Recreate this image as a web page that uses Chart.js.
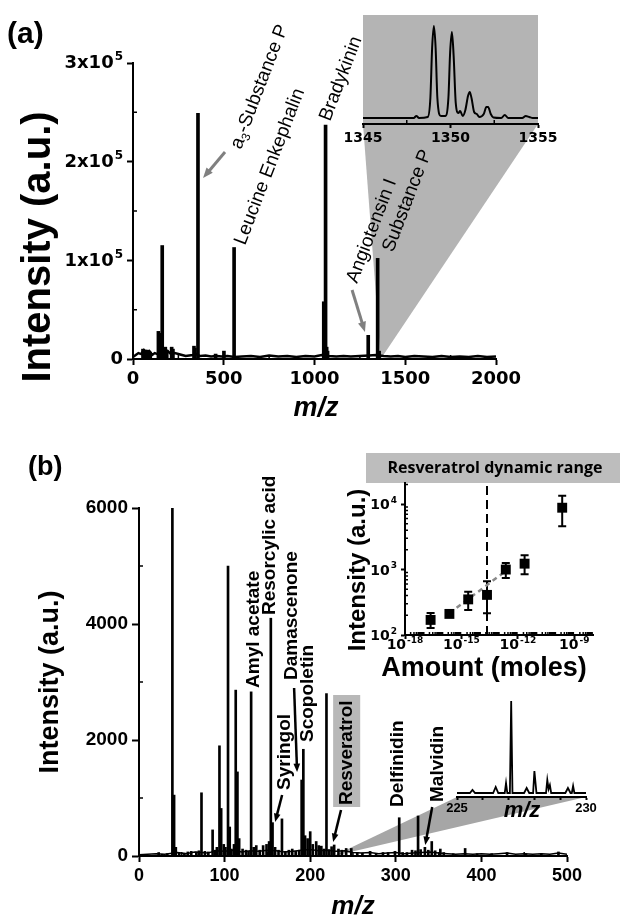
<!DOCTYPE html>
<html>
<head>
<meta charset="utf-8">
<title>Mass spectra</title>
<script src="https://cdn.jsdelivr.net/npm/chart.js@4.4.1/dist/chart.umd.min.js"></script>
<style>
  body { margin: 0; background: #fff; }
  #fig { position: relative; width: 620px; height: 916px; overflow: hidden; }
  #fig > div { position: absolute; }
  canvas { display: block; }
  .tag { font-weight: bold; color: #000; line-height: 1; }
</style>
</head>
<body>
<div id="fig">
  <div style="left:0;top:0"><canvas id="specA" width="620" height="440"></canvas></div>
  <div style="left:330px;top:0"><canvas id="insetA" width="240" height="160"></canvas></div>
  <div style="left:0;top:440px"><canvas id="specB" width="620" height="476"></canvas></div>
  <div style="left:330px;top:445px"><canvas id="rangeB" width="290" height="240"></canvas></div>
  <div style="left:430px;top:690px"><canvas id="insetB" width="190" height="140"></canvas></div>
  <div class="tag" style="left:7px;top:18px;font-family:'Liberation Sans';font-size:30px">(a)</div>
  <div class="tag" style="left:28px;top:453px;font-family:'Liberation Sans';font-size:27px">(b)</div>
</div>
<script>
// Panel (a): peptide spectrum, peaks as sticks plus the noisy baseline
const peakMzA = [55, 68, 82, 95, 140, 145, 150, 161, 178, 186, 213, 220, 336, 341, 358, 455, 501, 557, 1051, 1055, 1061, 1067, 1072, 1296, 1348, 1356];
const peakIntA = [10000, 9000, 9000, 7000, 28000, 26000, 15000, 115000, 12000, 9000, 12000, 10000, 13000, 11000, 249000, 5000, 8000, 113000, 58000, 30000, 237000, 12000, 8000, 24000, 102000, 8000];
const noiseMzA = [0, 15, 30, 45, 60, 75, 90, 105, 120, 135, 150, 170, 190, 210, 230, 250, 270, 290, 310, 330, 350, 370, 400, 430, 460, 490, 520, 560, 600, 650, 700, 750, 800, 850, 900, 950, 1000, 1040, 1080, 1120, 1160, 1200, 1250, 1300, 1340, 1380, 1420, 1460, 1500, 1550, 1600, 1650, 1700, 1750, 1800, 1850, 1900, 1950, 2000];
const noiseIntA = [2000, 4000, 6000, 5000, 9000, 7000, 8000, 4000, 6000, 5000, 7000, 6000, 8000, 5000, 6000, 5000, 4000, 3000, 3500, 4000, 5000, 3000, 3500, 2500, 3000, 2500, 3000, 2000, 2500, 3000, 2000, 3500, 2500, 3000, 2000, 3000, 2500, 4000, 3000, 2500, 3000, 2500, 3000, 3500, 4000, 3000, 2500, 3000, 2000, 3000, 2500, 2000, 3000, 2000, 2500, 2000, 3000, 2000, 2500];
const yTicksA = [0, 100000, 200000, 300000];
const yTickBaseA = ['0', '1x10', '2x10', '3x10'];
const yTickSupA = ['', '5', '5', '5'];
const minorXA = [250, 750, 1250, 1750];
const minorYA = [50000, 150000, 250000];
const apexA = [1365, 0];

// Panel (a) inset: Substance P isotope envelope
const insetMzA = [1345, 1346.5, 1347.9, 1348.05, 1348.2, 1348.7, 1348.85, 1348.95, 1349.05, 1349.15, 1349.25, 1349.45, 1349.7, 1349.88, 1349.98, 1350.08, 1350.18, 1350.3, 1350.45, 1350.55, 1350.7, 1350.85, 1351.0, 1351.1, 1351.2, 1351.35, 1351.5, 1351.65, 1351.9, 1352.05, 1352.15, 1352.3, 1352.45, 1352.9, 1353.1, 1353.3, 1354.1, 1354.3, 1354.5, 1354.7, 1355];
const insetIntA = [0, 0, 0, 2, 0, 1, 20, 70, 92, 70, 20, 2, 2, 20, 66, 86, 62, 15, 5, 7, 2, 8, 22, 26, 20, 6, 4, 1, 4, 11, 11, 4, 0.5, 0, 3, 0, 0, 2, 1, 0, 0];
const minorInsetA = [1347.5, 1352.5];

// Panel (b): wine extract spectrum
const peakMzB = [23, 27, 33, 39, 41, 43, 47, 53, 57, 61, 67, 70, 73, 77, 81, 86, 89, 91, 94, 96, 99, 101, 104, 106, 108, 111, 113, 115, 117, 121, 125, 128, 131, 134, 137, 141, 145, 149, 152, 154, 156, 159, 163, 167, 171, 175, 179, 183, 187, 190, 192, 194, 197, 200, 203, 207, 210, 213, 216, 219, 222, 225, 228, 233, 237, 242, 248, 255, 261, 270, 277, 285, 291, 299, 304, 308, 313, 319, 323, 326, 329, 334, 338, 342, 346, 352, 356, 367, 381, 395, 412, 430, 452, 470, 490];
const peakIntB = [60, 30, 40, 6000, 1050, 150, 60, 50, 70, 80, 70, 90, 1090, 80, 70, 450, 100, 150, 1900, 820, 200, 150, 5000, 500, 120, 200, 2860, 1450, 300, 120, 100, 80, 2830, 150, 180, 100, 180, 200, 250, 4100, 575, 150, 100, 640, 80, 100, 120, 80, 100, 1310, 1840, 350, 300, 420, 200, 250, 180, 170, 120, 2800, 110, 160, 190, 120, 100, 130, 130, 60, 50, 80, 40, 60, 60, 80, 660, 60, 60, 100, 90, 690, 110, 150, 100, 250, 90, 120, 60, 40, 130, 40, 40, 60, 40, 40, 70];
const noiseMzB = [0, 10, 20, 30, 45, 55, 65, 80, 90, 100, 110, 120, 130, 140, 150, 160, 170, 180, 190, 200, 210, 220, 230, 240, 250, 260, 270, 280, 290, 300, 310, 320, 330, 340, 350, 360, 370, 380, 390, 400, 410, 420, 430, 440, 450, 460, 470, 480, 490, 500];
const noiseIntB = [20, 30, 40, 30, 60, 40, 70, 50, 90, 80, 100, 70, 90, 80, 100, 90, 70, 80, 100, 110, 90, 100, 80, 90, 60, 50, 60, 40, 50, 60, 40, 50, 60, 70, 50, 40, 30, 40, 30, 40, 30, 40, 50, 30, 40, 30, 40, 30, 50, 30];
const minorXB = [50, 150, 250, 350, 450];
const minorYB = [1000, 3000, 5000];
const apexB = [227, 0];

// Panel (b) inset: resveratrol region 225-230
const insetMzB = [225, 225.5, 225.6, 225.7, 226.4, 226.5, 226.6, 226.85, 226.9, 226.95, 227.05, 227.1, 227.15, 227.6, 227.7, 227.8, 227.95, 228.0, 228.08, 228.45, 228.5, 228.55, 228.6, 228.65, 229.2, 229.3, 229.4, 229.45, 229.5, 229.55, 230];
const insetIntB = [0, 0, 3, 0, 0, 6, 0, 0, 10, 0, 0, 92, 0, 0, 5, 0, 0, 22, 0, 0, 13, 4, 8, 0, 0, 5, 0, 0, 7, 0, 0];
const insetLabelsB = [225, 230];

// Panel (b) inset: resveratrol dynamic range (log-log)
const amountR = [2.3e-17, 2.3e-16, 2.3e-15, 2.3e-14, 2.3e-13, 2.3e-12, 2.3e-10];
const intensR = [170, 210, 350, 410, 1000, 1230, 8800];
const errLowR = [128, 195, 240, 215, 740, 850, 4600];
const errHighR = [217, 225, 458, 660, 1260, 1660, 13400];
const fitXR = [2.3e-16, 2.3e-13];
const fitYR = [215, 950];
const limitR = 2.3e-14;
const xTicksR = [1e-18, 1e-15, 1e-12, 1e-9];
const xTickSupR = ['-18', '-15', '-12', '-9'];
const yTicksR = [100, 1000, 10000];
const yTickSupR = ['2', '3', '4'];
const xRangeR = [1e-18, 1e-8];
const yRangeR = [100, 21000];

// Labels pinned to data coordinates
const labelsA = [
  { text: 'Leucine Enkephalin', mz: 617, int: 114500 },
  { text: 'Bradykinin', mz: 1085, int: 240200 },
  { text: 'Angiotensin I', mz: 1234, int: 76000 },
  { text: 'Substance P', mz: 1432, int: 107400 }
];
const a3LabelA = { mz: 595, int: 211800 };
const arrowsA = [[507, 209800, 386, 183400], [1207, 69900, 1278, 27400]];
const labelsB = [
  { text: 'Amyl acetate', mz: 134.4, int: 2897 },
  { text: 'Resorcylic acid', mz: 153.1, int: 4155 },
  { text: 'Damascenone', mz: 178.9, int: 3034 },
  { text: 'Scopoletin', mz: 197.0, int: 1966 },
  { text: 'Syringol', mz: 170.7, int: 1138 },
  { text: 'Resveratrol', mz: 242.8, int: 879 },
  { text: 'Delfinidin', mz: 302.8, int: 845 },
  { text: 'Malvidin', mz: 349.0, int: 931 }
];
const arrowsB = [[181.2, 2897, 184.7, 1448], [167.2, 1052, 159, 586], [236, 793, 226.8, 241], [342.5, 845, 334.4, 190]];
const resvBox = [226.8, 258.4, 845, 2776];

Chart.defaults.color = '#000';
Chart.defaults.animation = false;
Chart.defaults.events = [];
Chart.defaults.plugins.legend.display = false;
Chart.defaults.plugins.tooltip.enabled = false;

const SANS = '"Liberation Sans", Arial, sans-serif';
const WIDE = '"DejaVu Sans", sans-serif';
const pts = (xs, ys) => xs.map((x, i) => ({ x, y: ys[i] }));

function drawText(ctx, text, x, y, font, rot = 0, align = 'center', base = 'middle') {
  ctx.save();
  ctx.translate(x, y);
  ctx.rotate(rot * Math.PI / 180);
  ctx.font = font;
  ctx.fillStyle = '#000';
  ctx.textAlign = align;
  ctx.textBaseline = base;
  ctx.fillText(text, 0, 0);
  ctx.restore();
}

// "10" with a raised exponent; y is the middle of the capitals
function drawPow(ctx, base, sup, x, y, size, family, align) {
  const fb = `bold ${size}px ${family}`;
  const fs = `bold ${Math.round(size * 0.65)}px ${family}`;
  ctx.save();
  ctx.font = fb;
  const wb = ctx.measureText(base).width;
  ctx.font = fs;
  const ws = sup ? ctx.measureText(sup).width + 1 : 0;
  let x0 = x;
  if (align === 'right') x0 = x - wb - ws;
  if (align === 'center') x0 = x - (wb + ws) / 2;
  const bl = y + size * 0.36;
  ctx.fillStyle = '#000';
  ctx.textAlign = 'left';
  ctx.textBaseline = 'alphabetic';
  ctx.font = fb;
  ctx.fillText(base, x0, bl);
  if (sup) {
    ctx.font = fs;
    ctx.fillText(sup, x0 + wb + 1, bl - size * 0.45);
  }
  ctx.restore();
}

function drawArrow(ctx, x1, y1, x2, y2, color, width, head) {
  const a = Math.atan2(y2 - y1, x2 - x1);
  ctx.save();
  ctx.strokeStyle = color;
  ctx.fillStyle = color;
  ctx.lineWidth = width;
  ctx.beginPath();
  ctx.moveTo(x1, y1);
  ctx.lineTo(x2 - head * 0.7 * Math.cos(a), y2 - head * 0.7 * Math.sin(a));
  ctx.stroke();
  ctx.beginPath();
  ctx.moveTo(x2, y2);
  ctx.lineTo(x2 - head * Math.cos(a - 0.38), y2 - head * Math.sin(a - 0.38));
  ctx.lineTo(x2 - head * Math.cos(a + 0.38), y2 - head * Math.sin(a + 0.38));
  ctx.closePath();
  ctx.fill();
  ctx.restore();
}

// short inward ticks between the labelled ones
function minorTicks(chart, axis, values, len) {
  const { ctx, chartArea: a } = chart;
  const s = chart.scales[axis];
  ctx.save();
  ctx.strokeStyle = '#000';
  ctx.lineWidth = 1.5;
  ctx.beginPath();
  for (const v of values) {
    const p = s.getPixelForValue(v);
    if (axis === 'x') { ctx.moveTo(p, a.bottom); ctx.lineTo(p, a.bottom - len); }
    else { ctx.moveTo(a.left, p); ctx.lineTo(a.left + len, p); }
  }
  ctx.stroke();
  ctx.restore();
}

function axisOpts(o) {
  return {
    type: o.type || 'linear', min: o.min, max: o.max, offset: false,
    afterFit: o.fit,
    afterBuildTicks: o.values ? s => { s.ticks = o.values.map(value => ({ value })); } : undefined,
    ticks: Object.assign({ maxRotation: 0, autoSkip: false, color: '#000', callback: v => String(v) }, o.ticks),
    grid: { drawOnChartArea: false, offset: false, tickLength: o.tick || 6, tickWidth: 2, tickColor: '#000' },
    border: { color: '#000', width: 2 }
  };
}

// offset of one chart's canvas inside another one
function shift(from, to) {
  const f = from.canvas.parentNode, t = to.canvas.parentNode;
  return [f.offsetLeft - t.offsetLeft, f.offsetTop - t.offsetTop];
}

// gray wedge from an inset's axis down to a point of the main spectrum
function wedge(chart, inset, apex, color) {
  const { ctx, scales: { x, y } } = chart;
  const [ox, oy] = shift(inset, chart);
  const ia = inset.chartArea;
  ctx.save();
  ctx.fillStyle = color;
  ctx.beginPath();
  ctx.moveTo(ia.left + ox, ia.bottom + oy);
  ctx.lineTo(ia.right + ox, ia.bottom + oy);
  ctx.lineTo(x.getPixelForValue(apex[0]), y.getPixelForValue(apex[1]));
  ctx.closePath();
  ctx.fill();
  ctx.restore();
}

// ---- (a) inset ----
const insetA = new Chart(document.getElementById('insetA'), {
  type: 'line',
  data: { datasets: [{ data: pts(insetMzA, insetIntA), borderColor: '#000', borderWidth: 2, pointRadius: 0, cubicInterpolationMode: 'monotone' }] },
  options: {
    responsive: false, devicePixelRatio: 1,
    layout: { padding: { left: 33, right: 32, top: 20, bottom: 0 } },
    scales: {
      x: axisOpts({ min: 1345, max: 1355, tick: 4, fit: s => { s.height = 36; },
        ticks: { stepSize: 5, padding: 2, font: { family: 'DejaVu Sans', weight: 'bold', size: 14 } } }),
      y: { display: false, min: -6, max: 98 }
    }
  },
  plugins: [{
    id: 'insetBgA',
    beforeDraw(c) {
      const a = c.chartArea;
      c.ctx.save();
      c.ctx.fillStyle = '#b4b4b4';
      c.ctx.fillRect(a.left, 15, a.right - a.left, a.bottom - 15);
      c.ctx.restore();
    },
    afterDraw(c) { minorTicks(c, 'x', minorInsetA, 4); }
  }]
});

// ---- (a) main spectrum ----
const specA = new Chart(document.getElementById('specA'), {
  type: 'bar',
  data: { datasets: [
    { data: pts(peakMzA, peakIntA), backgroundColor: '#000', barThickness: 3, borderWidth: 0 },
    { type: 'line', data: pts(noiseMzA, noiseIntA), borderColor: '#000', borderWidth: 2.5, pointRadius: 0 }
  ] },
  options: {
    responsive: false, devicePixelRatio: 1,
    layout: { padding: { left: 0, top: 63, right: 124, bottom: 0 } },
    scales: {
      x: axisOpts({ min: 0, max: 2000, fit: s => { s.height = 81; },
        ticks: { stepSize: 500, padding: 4, font: { family: 'DejaVu Sans', weight: 'bold', size: 18 } } }),
      y: axisOpts({ min: 0, max: 300000, fit: s => { s.width = 133; },
        ticks: { stepSize: 100000, display: false } })
    }
  },
  plugins: [{
    id: 'decorA',
    beforeDraw(c) { wedge(c, insetA, apexA, '#b4b4b4'); },
    afterDraw(c) {
      const { ctx, chartArea: a, scales: { x, y } } = c;
      minorTicks(c, 'x', minorXA, 4);
      minorTicks(c, 'y', minorYA, 4);
      yTicksA.forEach((v, i) => drawPow(ctx, yTickBaseA[i], yTickSupA[i], a.left - 10, y.getPixelForValue(v) - 1, 18, WIDE, 'right'));
      drawText(ctx, 'Intensity (a.u.)', 39, 247, `bold 40px ${SANS}`, -90);
      drawText(ctx, 'm/z', 316, 409, `italic bold 27px ${SANS}`);
      labelsA.forEach(l => drawText(ctx, l.text, x.getPixelForValue(l.mz), y.getPixelForValue(l.int), `19px ${SANS}`, -69, 'left', 'alphabetic'));
      // a3-Substance P with subscript
      ctx.save();
      ctx.translate(x.getPixelForValue(a3LabelA.mz), y.getPixelForValue(a3LabelA.int));
      ctx.rotate(-69 * Math.PI / 180);
      ctx.fillStyle = '#000';
      ctx.textBaseline = 'alphabetic';
      ctx.font = `19px ${SANS}`;
      ctx.fillText('a', 0, 0);
      const wa = ctx.measureText('a').width;
      ctx.font = `12px ${SANS}`;
      ctx.fillText('3', wa, 4);
      const w3 = ctx.measureText('3').width;
      ctx.font = `19px ${SANS}`;
      ctx.fillText('-Substance P', wa + w3, 0);
      ctx.restore();
      arrowsA.forEach(r => drawArrow(ctx, x.getPixelForValue(r[0]), y.getPixelForValue(r[1]), x.getPixelForValue(r[2]), y.getPixelForValue(r[3]), '#808080', 3, 11));
    }
  }]
});

// ---- (b) inset spectrum ----
const insetB = new Chart(document.getElementById('insetB'), {
  type: 'line',
  data: { datasets: [{ data: pts(insetMzB, insetIntB), borderColor: '#000', borderWidth: 1.8, pointRadius: 0 }] },
  options: {
    responsive: false, devicePixelRatio: 1,
    layout: { padding: { left: 27, right: 34, top: 7, bottom: 0 } },
    scales: {
      x: axisOpts({ min: 225, max: 230, tick: 3, fit: s => { s.height = 33; },
        ticks: { stepSize: 1, padding: 1, font: { family: 'Liberation Sans', weight: 'bold', size: 13 },
          callback: v => insetLabelsB.includes(Math.round(v)) ? String(Math.round(v)) : '' } }),
      y: { display: false, min: -4, max: 96 }
    }
  },
  plugins: [{
    id: 'insetLabelB',
    afterDraw(c) { drawText(c.ctx, 'm/z', 92, 121, `italic bold 22px ${SANS}`); }
  }]
});

// ---- (b) dynamic range inset ----
const minorXR = [];
for (let d = -18; d < -8; d++) for (let m = 1; m < 10; m++) {
  const v = m * Math.pow(10, d);
  if (v < xRangeR[1] && !(m === 1 && (d + 18) % 3 === 0)) minorXR.push(v);
}
const minorYR = [];
for (let d = 2; d < 5; d++) for (let m = 2; m < 10; m++) {
  const v = m * Math.pow(10, d);
  if (v < yRangeR[1]) minorYR.push(v);
}

const rangeB = new Chart(document.getElementById('rangeB'), {
  type: 'scatter',
  data: { datasets: [
    { data: pts(amountR, intensR), pointStyle: 'rect', pointRadius: 7, backgroundColor: '#000', borderColor: '#000', borderWidth: 0 },
    { type: 'line', data: pts(fitXR, fitYR), borderColor: '#8a8a8a', borderWidth: 2.5, borderDash: [5, 4], pointRadius: 0 },
    { type: 'line', data: pts([limitR, limitR], yRangeR), borderColor: '#000', borderWidth: 2, borderDash: [9, 5], pointRadius: 0 }
  ] },
  options: {
    responsive: false, devicePixelRatio: 1,
    layout: { padding: { left: 0, top: 38, right: 27, bottom: 0 } },
    scales: {
      x: axisOpts({ type: 'logarithmic', min: xRangeR[0], max: xRangeR[1], tick: 4, values: xTicksR,
        fit: s => { s.height = 50; }, ticks: { display: false } }),
      y: axisOpts({ type: 'logarithmic', min: yRangeR[0], max: yRangeR[1], tick: 4, values: yTicksR,
        fit: s => { s.width = 75; }, ticks: { display: false } })
    }
  },
  plugins: [{
    id: 'decorR',
    beforeDraw(c) {
      const { ctx } = c;
      ctx.save();
      ctx.fillStyle = '#bdbdbd';
      ctx.fillRect(36, 8, c.width - 36, 30);
      ctx.restore();
      drawText(ctx, 'Resveratrol dynamic range', 165, 23, 'bold 16px "Open Sans"');
    },
    beforeDatasetsDraw(c) {
      const { ctx, scales: { x, y } } = c;
      ctx.save();
      ctx.strokeStyle = '#000';
      ctx.lineWidth = 2;
      amountR.forEach((v, i) => {
        const px = x.getPixelForValue(v);
        const lo = y.getPixelForValue(errLowR[i]), hi = y.getPixelForValue(errHighR[i]);
        ctx.beginPath();
        ctx.moveTo(px, lo); ctx.lineTo(px, hi);
        ctx.moveTo(px - 4, lo); ctx.lineTo(px + 4, lo);
        ctx.moveTo(px - 4, hi); ctx.lineTo(px + 4, hi);
        ctx.stroke();
      });
      ctx.restore();
    },
    afterDraw(c) {
      const { ctx, chartArea: a, scales: { x, y } } = c;
      minorTicks(c, 'x', minorXR, 3);
      minorTicks(c, 'y', minorYR, 3);
      xTicksR.forEach((v, i) => drawPow(ctx, '10', xTickSupR[i], x.getPixelForValue(v), a.bottom + 9, 14, WIDE, 'center'));
      yTicksR.forEach((v, i) => drawPow(ctx, '10', yTickSupR[i], a.left - 8, y.getPixelForValue(v), 14, WIDE, 'right'));
      drawText(ctx, 'Intensity (a.u.)', 28, 125, `bold 24px ${SANS}`, -90);
      drawText(ctx, 'Amount (moles)', 154, 224, `bold 27px ${SANS}`);
    }
  }]
});

// ---- (b) main spectrum ----
const specB = new Chart(document.getElementById('specB'), {
  type: 'bar',
  data: { datasets: [
    { data: pts(peakMzB, peakIntB), backgroundColor: '#000', barThickness: 2, borderWidth: 0 },
    { type: 'line', data: pts(noiseMzB, noiseIntB), borderColor: '#000', borderWidth: 1.5, pointRadius: 0 }
  ] },
  options: {
    responsive: false, devicePixelRatio: 1,
    layout: { padding: { left: 0, top: 68, right: 53, bottom: 0 } },
    scales: {
      x: axisOpts({ min: 0, max: 500, fit: s => { s.height = 60; },
        ticks: { stepSize: 100, padding: 3, font: { family: 'Liberation Sans', weight: 'bold', size: 18 } } }),
      y: axisOpts({ min: 0, max: 6000, tick: 7, fit: s => { s.width = 139; },
        ticks: { stepSize: 2000, padding: 4, font: { family: 'Liberation Sans', weight: 'bold', size: 19 } } })
    }
  },
  plugins: [{
    id: 'decorB',
    beforeDraw(c) {
      const { ctx, scales: { x, y } } = c;
      wedge(c, insetB, apexB, '#a6a6a6');
      ctx.save();
      ctx.fillStyle = '#b8b8b8';
      const bx = x.getPixelForValue(resvBox[0]), by = y.getPixelForValue(resvBox[3]);
      ctx.fillRect(bx, by, x.getPixelForValue(resvBox[1]) - bx, y.getPixelForValue(resvBox[2]) - by);
      ctx.restore();
    },
    afterDraw(c) {
      const { ctx, scales: { x, y } } = c;
      minorTicks(c, 'x', minorXB, 4);
      minorTicks(c, 'y', minorYB, 4);
      drawText(ctx, 'Intensity (a.u.)', 51, 242, `bold 27px ${SANS}`, -90);
      drawText(ctx, 'm/z', 353, 467, `italic bold 26px ${SANS}`);
      labelsB.forEach(l => drawText(ctx, l.text, x.getPixelForValue(l.mz), y.getPixelForValue(l.int), `bold 19px ${SANS}`, -90, 'left', 'middle'));
      arrowsB.forEach(r => drawArrow(ctx, x.getPixelForValue(r[0]), y.getPixelForValue(r[1]), x.getPixelForValue(r[2]), y.getPixelForValue(r[3]), '#000', 2.5, 9));
    }
  }]
});
</script>
</body>
</html>
